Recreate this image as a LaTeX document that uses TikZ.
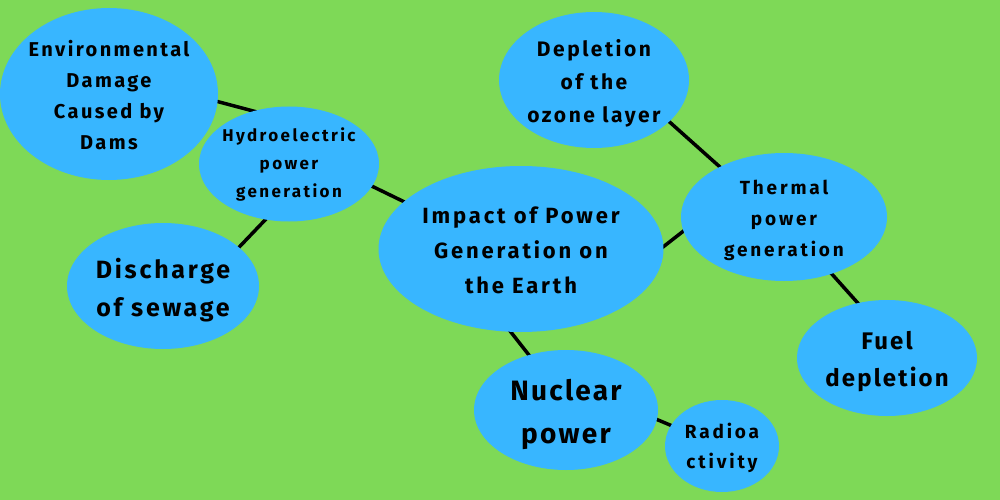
\documentclass[tikz,border=0pt]{standalone}
\usepackage{fontspec}
\setmainfont{Fira Sans}
\usetikzlibrary{shapes.geometric,backgrounds}
\definecolor{bggreen}{HTML}{7ED957}
\definecolor{bubble}{HTML}{38B6FF}
\newcommand{\bubfont}[3]{\bfseries\fontsize{#1}{#2}\selectfont\addfontfeature{LetterSpace=#3}}
\tikzset{
  bub/.style={ellipse, fill=bubble, draw=none, inner sep=0pt},
  txt/.style={inner sep=0pt, align=center, text=black},
  link/.style={line width=3.5pt, black, shorten <=-4pt, shorten >=-4pt}
}
\begin{document}
\begin{tikzpicture}[x=1pt,y=-1pt]
\useasboundingbox (0,0) rectangle (1000,500);
% bubbles
\node[bub, minimum width=218pt, minimum height=172pt] (env) at (109,94) {};
\node[bub, minimum width=180pt, minimum height=115pt] (hydro) at (289,164) {};
\node[bub, minimum width=192pt, minimum height=126pt] (sew) at (163,286) {};
\node[bub, minimum width=285pt, minimum height=166pt] (imp) at (521,249) {};
\node[bub, minimum width=190pt, minimum height=136pt] (ozone) at (594,80) {};
\node[bub, minimum width=206pt, minimum height=128pt] (therm) at (784,217) {};
\node[bub, minimum width=180pt, minimum height=116pt] (fuel) at (887,358) {};
\node[bub, minimum width=184pt, minimum height=120pt] (nuc) at (566,410) {};
\node[bub, minimum width=114pt, minimum height=92pt] (rad) at (722,446) {};
% texts
\node[txt, font=\bubfont{20}{31}{12}, yshift=-1pt] (envT) at (env.center) {Environmental\\Damage\\Caused by\\Dams};
\node[txt, font=\bubfont{17}{28}{14}, yshift=-0.5pt] (hydroT) at (hydro.center) {Hydroelectric\\power\\generation};
\node[txt, font=\bubfont{25}{38}{11}, yshift=-4pt] (sewT) at (sew.center) {Discharge\\of sewage};
\node[txt, font=\bubfont{22}{35}{13}, yshift=-1.5pt] (impT) at (imp.center) {Impact of Power\\Generation on\\the Earth};
\node[txt, font=\bubfont{21}{33}{12}, yshift=-3pt] (ozoneT) at (ozone.center) {Depletion\\of the\\ozone layer};
\node[txt, font=\bubfont{19}{31}{15}, yshift=-3pt] (thermT) at (therm.center) {Thermal\\power\\generation};
\node[txt, font=\bubfont{24}{37}{9}, yshift=-4pt] (fuelT) at (fuel.center) {Fuel\\depletion};
\node[txt, font=\bubfont{28}{43}{8}, yshift=-4pt] (nucT) at (nuc.center) {Nuclear\\power};
\node[txt, font=\bubfont{19}{30}{15}, yshift=-1.5pt] (radT) at (rad.center) {Radioa\\ctivity};
\begin{pgfonlayer}{background}
\fill[bggreen] (0,0) rectangle (1000,500);
\draw[link] (env.-4) -- (hydro.124);
\draw[link] (hydro.-15) -- (imp.158);
\draw[link] (hydro.-113) -- (sew.27);
\draw[link] (imp.1) -- (therm.188.5);
\draw[link] (ozone.-29) -- (therm.142.6);
\draw[link] (therm.-50) -- (fuel.118.7);
\draw[link] (imp.-97) -- (nuc.124.6);
\draw[link] (nuc.-6) -- (rad.158);
\end{pgfonlayer}
\end{tikzpicture}
\end{document}
